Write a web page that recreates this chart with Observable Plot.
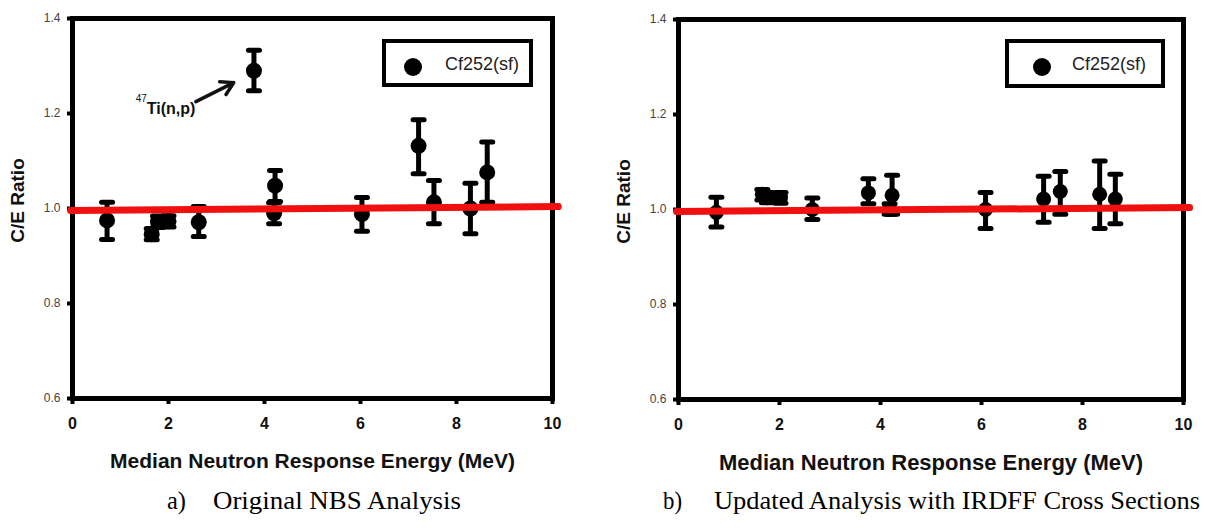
<!DOCTYPE html>
<html>
<head>
<meta charset="utf-8">
<script src="https://cdn.jsdelivr.net/npm/d3@7"></script>
<script src="https://cdn.jsdelivr.net/npm/@observablehq/plot@0.6"></script>
<style>
  html, body { margin: 0; padding: 0; background: #fff; }
  #page { position: relative; width: 1210px; height: 528px; overflow: hidden; background: #fff; font-family: "Liberation Sans", Arial, sans-serif; }
  .panel { position: absolute; top: 0; }
  .legend { position: absolute; box-sizing: border-box; border: 4px solid #000; background: #fff; }
  .legend .dot { position: absolute; width: 18px; height: 18px; border-radius: 50%; background: #000; }
  .legend .lab { position: absolute; font-size: 18px; color: #222; line-height: 18px; white-space: nowrap; }
  #captions { position: absolute; left: 0; top: 0; }
</style>
</head>
<body>
<div id="page">
  <div id="left" class="panel" style="left:0px"></div>
  <div id="right" class="panel" style="left:606px"></div>
  <div class="legend" style="left:382px; top:39px; width:151px; height:48px;">
    <div class="dot" style="left:18px; top:15px;"></div>
    <div class="lab" style="left:59px; top:12px;">Cf252(sf)</div>
  </div>
  <div class="legend" style="left:1005px; top:39px; width:160px; height:49px;">
    <div class="dot" style="left:24px; top:15px;"></div>
    <div class="lab" style="left:63px; top:12px;">Cf252(sf)</div>
  </div>
  <svg id="captions" width="1210" height="528" style="pointer-events:none">
    <g font-family="'Liberation Serif', 'Times New Roman', serif" font-size="26" fill="#000">
      <text x="167" y="509" textLength="19" lengthAdjust="spacingAndGlyphs">a)</text>
      <text x="213" y="509" textLength="248" lengthAdjust="spacingAndGlyphs">Original NBS Analysis</text>
      <text x="663" y="509" textLength="19" lengthAdjust="spacingAndGlyphs">b)</text>
      <text x="714" y="509" textLength="486" lengthAdjust="spacingAndGlyphs">Updated Analysis with IRDFF Cross Sections</text>
    </g>
  </svg>
</div>
<script>
// ---- Data ----
// Panel a) Original NBS analysis
const energyA = [0.72, 1.65, 1.78, 2.0, 2.63, 3.78, 4.22, 4.2, 6.03, 7.21, 7.53, 8.29, 8.64];
const ratioA  = [0.975, 0.946, 0.972, 0.973, 0.971, 1.29, 1.048, 0.99, 0.988, 1.132, 1.013, 1.0, 1.076];
const lowA    = [0.935, 0.934, 0.960, 0.961, 0.941, 1.248, 1.015, 0.968, 0.952, 1.073, 0.968, 0.947, 1.013];
const highA   = [1.013, 0.958, 0.984, 0.985, 1.004, 1.333, 1.080, 1.012, 1.023, 1.187, 1.059, 1.053, 1.140];

// Panel b) Updated analysis with IRDFF cross sections
const energyB = [0.75, 1.66, 1.75, 2.02, 2.65, 3.76, 4.23, 4.18, 6.08, 7.23, 7.56, 8.34, 8.65];
const ratioB  = [0.994, 1.032, 1.025, 1.025, 1.0, 1.035, 1.03, 1.0, 1.0, 1.022, 1.038, 1.032, 1.022];
const lowB    = [0.963, 1.020, 1.014, 1.013, 0.979, 1.012, 0.990, 0.990, 0.960, 0.973, 0.990, 0.960, 0.970];
const highB   = [1.026, 1.042, 1.036, 1.036, 1.024, 1.065, 1.072, 1.012, 1.036, 1.070, 1.080, 1.102, 1.074];

// Unity reference line (fit) endpoints
const fitX = [-0.04, 10.12];
const fitY = [0.996, 1.004];

// Axes
const xTicks = [0, 2, 4, 6, 8, 10];
const yTicks = [0.6, 0.8, 1.0, 1.2, 1.4];
const xDomain = [0, 10];
const yDomain = [0.6, 1.4];

// Annotation (panel a)
const annoLabel = ["Ti(n,p)"];
const annoSup = ["47"];
const annoTextX = [2.56];
const annoTextY = [1.21];
const annoSupX = [1.55];
const annoSupY = [1.232];
const arrowFrom = [[2.57, 1.225]];
const arrowTo = [[3.36, 1.265]];

const xTitle = "Median Neutron Response Energy (MeV)";
const yTitle = "C/E Ratio";

// ---- Drawing ----
const FONT = "'Liberation Sans', Arial, sans-serif";
const capSymbol = {
  draw(ctx, size) {
    const r = Math.sqrt(size / Math.PI);
    ctx.moveTo(-r, 0);
    ctx.lineTo(r, 0);
  }
};

function panel({xs, ys, los, his, width, marginLeft, marginRight, marginTop, dotR, titleSize, extra = []}) {
  const data = xs.map((x, i) => ({x, y: ys[i], lo: los[i], hi: his[i]}));
  const caps = data.flatMap(d => [{x: d.x, y: d.lo}, {x: d.x, y: d.hi}]);
  const fit = fitX.map((x, i) => ({x, y: fitY[i]}));
  const height = 470;
  return Plot.plot({
    width, height,
    marginLeft, marginRight, marginTop, marginBottom: height - marginTop - 380,
    x: {domain: xDomain},
    y: {domain: yDomain},
    style: {fontFamily: FONT, background: "transparent", overflow: "visible"},
    marks: [
      Plot.ruleX(data, {x: "x", y1: "lo", y2: "hi", stroke: "#000", strokeWidth: 5}),
      Plot.dot(caps, {x: "x", y: "y", symbol: capSymbol, r: 5.5, fill: "none", stroke: "#000", strokeWidth: 5, strokeLinecap: "round"}),
      Plot.dot(data, {x: "x", y: "y", r: dotR, fill: "#000", stroke: "none"}),
      // y ticks and labels
      Plot.axisY({ticks: yTicks, tickSize: 5, strokeWidth: 4, tickFormat: () => "", label: null}),
      Plot.axisY({ticks: yTicks, tickSize: 0, tickPadding: 12, tickFormat: d3.format(".1f"), fontSize: 12, fill: "#444", label: null}),
      // x ticks and labels
      Plot.axisX({ticks: xTicks, tickSize: 6, strokeWidth: 4, tickFormat: () => "", label: null}),
      Plot.axisX({ticks: xTicks, tickSize: 0, tickPadding: 19, tickFormat: d3.format("d"), fontSize: 16, fontWeight: "bold", fill: "#111", label: null}),
      Plot.frame({stroke: "#000", strokeWidth: 5}),
      Plot.text([xTitle], {frameAnchor: "bottom", dy: 63, textAnchor: "middle", fontSize: titleSize, fontWeight: "bold", fill: "#111", lineAnchor: "middle"}),
      Plot.text([yTitle], {frameAnchor: "left", dx: -55, dy: -8, textAnchor: "middle", rotate: -90, fontSize: 19, fontWeight: "bold", fill: "#111", lineAnchor: "middle"}),
      ...extra,
      Plot.line(fit, {x: "x", y: "y", stroke: "#f01010", strokeWidth: 7})
    ]
  });
}

const annoMarks = [
  Plot.text(annoLabel, {x: annoTextX, y: annoTextY, text: d => d, textAnchor: "end", fontSize: 16, fontWeight: "bold", fill: "#111", lineAnchor: "middle"}),
  Plot.text(annoSup, {x: annoSupX, y: annoSupY, text: d => d, textAnchor: "end", fontSize: 10, fill: "#111", lineAnchor: "middle"}),
  Plot.arrow(arrowFrom.map((f, i) => ({x1: f[0], y1: f[1], x2: arrowTo[i][0], y2: arrowTo[i][1]})), {x1: "x1", y1: "y1", x2: "x2", y2: "y2", stroke: "#111", strokeWidth: 3.5, headLength: 15, bend: 0})
];

document.getElementById("left").append(panel({
  xs: energyA, ys: ratioA, los: lowA, his: highA,
  width: 600, marginLeft: 72, marginRight: 48, marginTop: 18, dotR: 8, titleSize: 21, extra: annoMarks
}));
document.getElementById("right").append(panel({
  xs: energyB, ys: ratioB, los: lowB, his: highB,
  width: 604, marginLeft: 72, marginRight: 27, marginTop: 19, dotR: 7.5, titleSize: 22
}));
</script>
</body>
</html>
